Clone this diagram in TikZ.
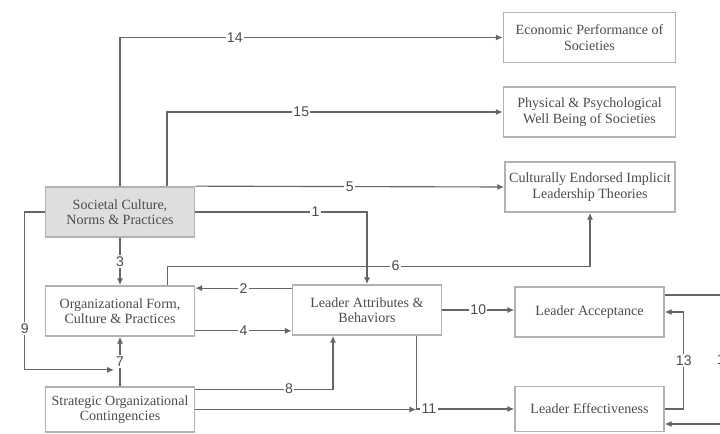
\documentclass[tikz,border=0pt]{standalone}
\usepackage{fontspec}
\setmainfont{Liberation Serif}
\newfontfamily\numfont{Liberation Sans}
\usetikzlibrary{arrows.meta}

\begin{document}
\begin{tikzpicture}[x=0.025cm, y=-0.025cm,
        box/.style={draw=black!30, line width=1.2pt, fill=white, text=black!70, align=center,
            minimum height=1.25cm, inner sep=2pt, font=\fontsize{10}{11}\selectfont},
        wide/.style={box, minimum width=4.3cm},
        mid/.style={box, minimum width=3.72cm},
        link/.style={draw=black!60, line width=0.8pt},
        conn/.style={link, -{Latex[length=1.7mm,width=1.5mm]}},
        num/.style={fill=white, inner sep=1pt, text=black!70, font=\numfont\fontsize{10}{11}\selectfont}]
        \fill[white] (0,0) rectangle (720,433);
        \useasboundingbox (0,0) rectangle (720,433);
        \node[wide] (EP) at (589.5,37.5) {Economic Performance of\\Societies};
        \node[wide] (PW) at (589.5,112) {Physical \& Psychological\\Well Being of Societies};
        \node[wide, minimum width=4.25cm] (CLT) at (590,187) {Culturally Endorsed Implicit\\Leadership Theories};
        \node[mid, fill=black!13] (SC) at (120,212) {Societal Culture,\\Norms \& Practices};
        \node[mid] (OF) at (120,311) {Organizational Form,\\Culture \& Practices};
        \node[mid] (LA) at (367,310) {Leader Attributes \&\\Behaviors};
        \node[mid] (LAc) at (589.5,312) {Leader Acceptance};
        \node[mid, minimum height=1.125cm] (LE) at (589.5,409) {Leader Effectiveness};
        \node[mid, minimum height=1.125cm] (SO) at (120,409.5) {Strategic Organizational\\Contingencies};
        \draw[conn] (SC.north) |- node[num, pos=0.65] {14} (EP.west);
        \draw[conn] ([xshift=1.175cm]SC.north) |- node[num, pos=0.7] {15} (PW.west);
        \draw[conn] (SC.north east) -- node[num] {5} (CLT.west);
        \draw[conn] (SC.east) -| node[num, pos=0.35] {1} (LA.north);
        \draw[conn] ([xshift=-0.7cm]OF.north east) -- ++(0,-19) -| node[num, pos=0.27] {6} (CLT.south);
        \draw[conn] (SC.south) -- node[num] {3} (OF.north);
        \draw[conn] (SO.north) -- coordinate[pos=0.33] (m7) node[num] {7} (OF.south);
        \draw[conn] (SC.west) -- ++(-20,0) |- node[num, pos=0.37] {9} ([xshift=-0.15cm]m7);
        \coordinate (a2) at ([yshift=-0.1cm]LA.north west);
        \draw[conn] (a2) -- node[num] {2} (a2 -| OF.east);
        \coordinate (a4) at ([yshift=0.15cm]OF.south east);
        \draw[conn] (a4) -- node[num] {4} (a4 -| LA.west);
        \coordinate (a8) at ([yshift=-0.075cm]SO.north east);
        \draw[conn] (a8) -| node[num, pos=0.34] {8} ([xshift=-0.85cm]LA.south);
        \coordinate (b11) at ([xshift=-0.65cm]LA.south east);
        \draw[link] (b11) -- (b11 |- LE.west) coordinate (j11);
        \draw[conn] (SO.east) -- (SO.east -| j11);
        \draw[conn] (j11) -- node[num, pos=0.13] {11} (LE.west);
        \draw[conn] (LA.east) -- node[num] {10} (LA.east -| LAc.west);
        \draw[conn] (LE.east) -- ++(19,0) |- node[num, pos=0.25] {13} (LAc.east);
        \draw[conn] ([yshift=0.425cm]LAc.east) -- ++(60,0) |- node[num, pos=0.25] {12} ([yshift=-0.375cm]LE.east);
\end{tikzpicture}
\end{document}
